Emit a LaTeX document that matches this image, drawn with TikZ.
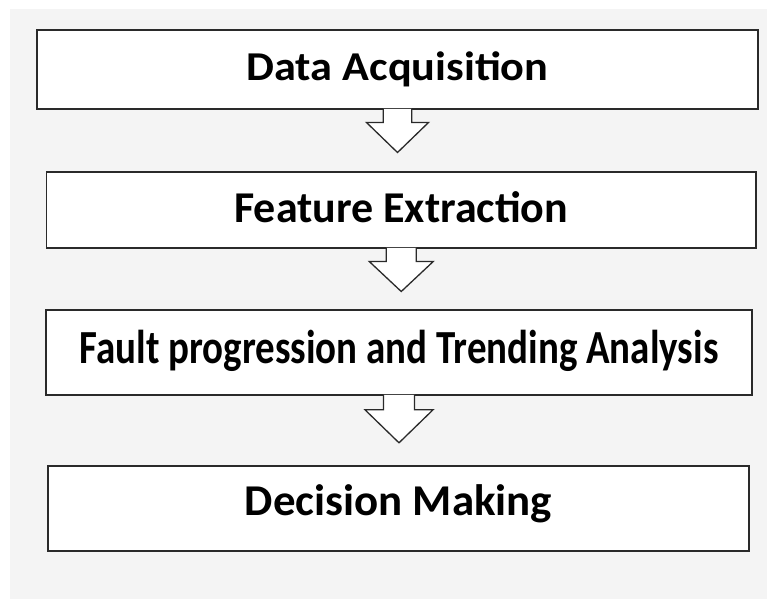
\documentclass[tikz,border=0pt]{standalone}
\usepackage{fontspec}
\setmainfont{Carlito}
\usepackage{graphicx}
\definecolor{panel}{HTML}{F4F4F4}
\definecolor{ink}{HTML}{2A2A2A}
\tikzset{
  stage/.style={draw=ink, line width=1.6pt, fill=white, rectangle,
    inner sep=0pt, anchor=center, font=\bfseries},
  arrowline/.style={draw=ink, line width=1.3pt, line join=miter},
}
% Hollow block arrow hanging below a node:
% #1 node, #2 shaft half-width, #3 head half-width, #4 shaft length, #5 total length
\newcommand\blockarrow[5]{%
  \begin{scope}[shift={(#1.south)}]
    \fill[white] (-#2,-0.9) -- (-#2,#4) -- (-#3,#4) -- (0,#5) -- (#3,#4) -- (#2,#4) -- (#2,-0.9) -- cycle;
    \draw[arrowline] (-#2,-0.8) -- (-#2,#4) -- (-#3,#4) -- (0,#5) -- (#3,#4) -- (#2,#4) -- (#2,-0.8);
  \end{scope}}
\begin{document}
\begin{tikzpicture}[x=1pt, y=-1pt]
  % canvas and grey panel
  \fill[white] (0,0) rectangle (767,599);
  \fill[panel] (10,9) rectangle (767,599);
  \useasboundingbox (0,0) rectangle (767,599);

  % process stages
  \node[stage, minimum width=721pt, minimum height=79pt,
        text height=26pt, text depth=3pt] (acq) at (397.5,69.5)
    {\fontsize{41}{41}\selectfont\scalebox{1.08}[1]{Data Acquisition}};
  \node[stage, minimum width=709.5pt, minimum height=76pt,
        text height=27.7pt, text depth=2pt] (feat) at (401.25,210)
    {\fontsize{44}{44}\selectfont Feature Extraction};
  \node[stage, minimum width=706pt, minimum height=85pt,
        text height=30pt, text depth=8pt] (fault) at (399,352.5)
    {\fontsize{47.5}{47.5}\selectfont\scalebox{0.82}[1]{Fault progression and Trending Analysis}};
  \node[stage, minimum width=701pt, minimum height=85pt,
        text height=27.7pt, text depth=13pt] (dec) at (398.5,508.5)
    {\fontsize{44}{44}\selectfont\scalebox{1.02}[1]{Decision Making}};

  % flow arrows between stages
  \blockarrow{acq}{14.2}{31}{12.7}{42.7}
  \blockarrow{feat}{15}{32}{12.7}{42.7}
  \blockarrow{fault}{15.5}{34}{14}{47}
\end{tikzpicture}
\end{document}
